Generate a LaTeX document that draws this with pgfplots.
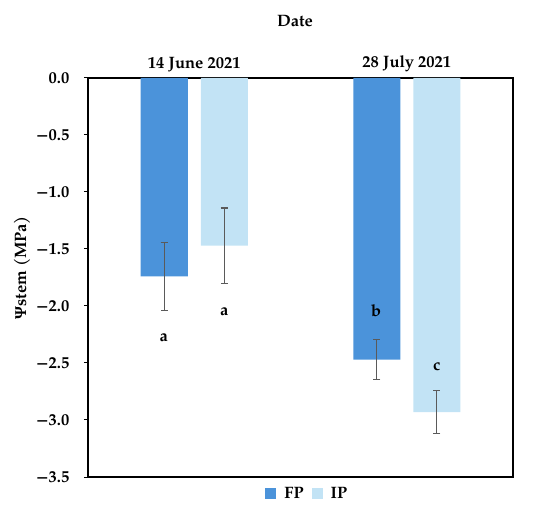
\documentclass[border=0pt]{standalone}
\usepackage{fontspec}
\setmainfont{texgyrepagella}[Extension=.otf, UprightFont=*-regular, BoldFont=*-bold, ItalicFont=*-italic, BoldItalicFont=*-bolditalic]
\newfontfamily\greekfont{Liberation Serif}
\usepackage{pgfplots}
\pgfplotsset{compat=1.18}
\definecolor{fpblue}{RGB}{75,147,218}
\definecolor{iplight}{RGB}{194,227,245}
\definecolor{errgray}{RGB}{90,90,90}
\begin{document}
\bfseries\fontsize{16.5bp}{19bp}\selectfont
\begin{tikzpicture}
\useasboundingbox (-88bp,-33bp) rectangle (462bp,477bp);
\begin{axis}[
  at={(0,0)}, anchor=south west,
  scale only axis, width=425bp, height=399bp,
  ybar, bar width=47bp,
  xmin=-0.5, xmax=1.5, ymin=-3.5, ymax=0,
  xtick={0,1}, xticklabels={14 June 2021,28 July 2021},
  xticklabel pos=upper,
  xticklabel style={yshift=-4bp},
  x tick style={draw=none},
  ytick={-3.5,-3,-2.5,-2,-1.5,-1,-0.5,0},
  yticklabels={−3.5,−3.0,−2.5,−2.0,−1.5,−1.0,−0.5,0.0},
  yticklabel style={xshift=-9bp},
  y tick style={black, line width=1bp},
  tick align=outside, major tick length=4bp,
  ytick pos=left,
  axis line style={black, line width=1.2bp},
  title={Date},
  title style={at={(0.487,1.128)}, anchor=center},
  ylabel={{\greekfont\bfseries Ψ}stem (MPa)},
  ylabel style={at={(-0.155,0.524)}, anchor=center},
  legend columns=2,
  legend style={draw=none, at={(0.516,-0.0426)}, anchor=center, column sep=6bp, inner sep=0pt},
  legend image code/.code={\fill[#1] (0bp,-5.5bp) rectangle (11bp,5.5bp);},
  error bars/error bar style={errgray, line width=1.2bp},
  error bars/error mark options={errgray, rotate=90, mark size=3.5bp, line width=1.2bp},
]
\addplot[fill=fpblue, draw=none, bar shift=-30bp,
  error bars/.cd, y dir=both, y explicit]
  coordinates {(0,-1.74) +- (0,0.30) (1,-2.47) +- (0,0.175)};
\addlegendentry{FP}
\addplot[fill=iplight, draw=none, bar shift=30bp,
  error bars/.cd, y dir=both, y explicit]
  coordinates {(0,-1.47) +- (0,0.33) (1,-2.93) +- (0,0.19)};
\addlegendentry{IP}
\node at (axis cs:-0.1435,-2.28) {a};
\node at (axis cs:0.1412,-2.05) {a};
\node at (axis cs:0.8565,-2.04) {b};
\node at (axis cs:1.1412,-2.53) {c};
\end{axis}
\end{tikzpicture}
\end{document}
